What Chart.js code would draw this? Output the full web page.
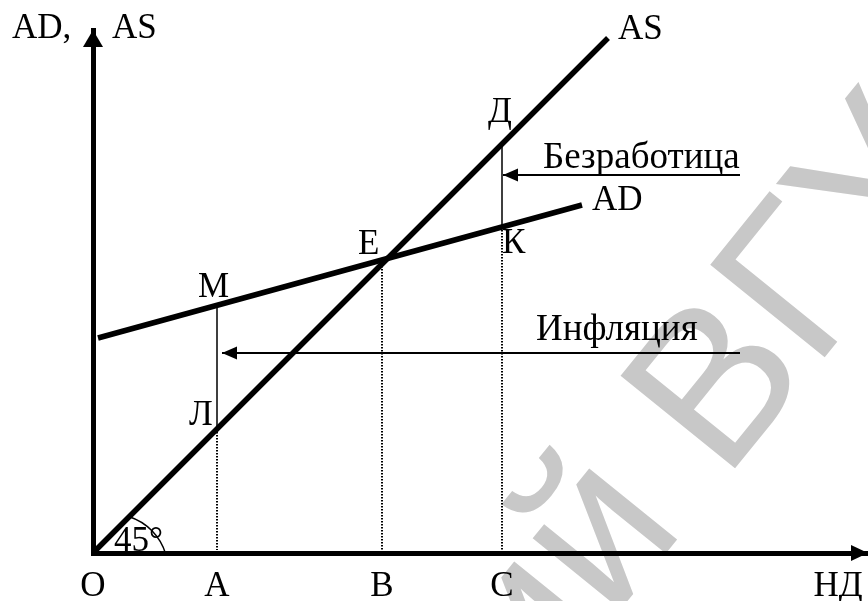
<!DOCTYPE html>
<html>
<head>
<meta charset="utf-8">
<script src="https://cdn.jsdelivr.net/npm/chart.js@4/dist/chart.umd.min.js"></script>
<style>
  html, body { margin: 0; padding: 0; background: #fff; }
</style>
</head>
<body>
<canvas id="chart" width="868" height="601"></canvas>
<script>
// Aggregate supply (45 degree line) and aggregate demand
const asX = [0, 51.5];
const asY = [0, 51.5];
const adX = [0.5, 48.9];
const adY = [21.5, 34.8];

// points on the income axis and the heights where AS / AD cross them
const xTickVals = [0, 12.4, 28.9, 40.9, 74.5];
const xTickLabels = ['О', 'А', 'В', 'С', 'НД'];
const dropX = [12.4, 28.9, 40.9];
const dropAS = [12.4, 29.3, 40.9];
const dropAD = [24.8, 29.3, 32.6];

// gap arrows
const gapNames = ['Безработица', 'Инфляция'];
const gapY = [37.8, 20.0];
const gapFrom = [64.7, 64.7];
const gapTo = [41.0, 12.9];

const serif = 'Liberation Serif, Times New Roman, serif';

const datasets = [];
datasets.push({ data: asX.map((x, i) => ({ x: x, y: asY[i] })), borderColor: '#000', borderWidth: 5.5 });
datasets.push({ data: adX.map((x, i) => ({ x: x, y: adY[i] })), borderColor: '#000', borderWidth: 5.5 });
dropX.forEach((x, i) => {
  const hi = Math.max(dropAS[i], dropAD[i]);
  const lo = Math.min(dropAS[i], dropAD[i]);
  if (hi - lo > 1) {
    datasets.push({ data: [{ x: x, y: hi }, { x: x, y: lo }], borderColor: '#000', borderWidth: 1.5 });
  }
  datasets.push({ data: [{ x: x, y: lo }, { x: x, y: 0.3 }], borderColor: '#000', borderWidth: 2, borderDash: [1.5, 1.5] });
});
gapY.forEach((y, i) => {
  datasets.push({ data: [{ x: gapFrom[i], y: y }, { x: gapTo[i], y: y }], borderColor: '#000', borderWidth: 2 });
});
datasets.forEach(d => { d.showLine = true; d.pointRadius = 0; d.fill = false; d.tension = 0; });

function arrowHead(ctx, x, y, dir, len, half) {
  ctx.beginPath();
  if (dir === 'up') { ctx.moveTo(x, y); ctx.lineTo(x - half, y + len); ctx.lineTo(x + half, y + len); }
  if (dir === 'right') { ctx.moveTo(x, y); ctx.lineTo(x - len, y - half); ctx.lineTo(x - len, y + half); }
  if (dir === 'left') { ctx.moveTo(x, y); ctx.lineTo(x + len, y - half); ctx.lineTo(x + len, y + half); }
  ctx.closePath();
  ctx.fill();
}

// faint repository stamp behind the drawing
const watermark = {
  id: 'watermark',
  beforeDraw(chart) {
    const ctx = chart.ctx;
    ctx.save();
    ctx.translate(724, 482);
    ctx.rotate(-51 * Math.PI / 180);
    ctx.fillStyle = '#c8c8c8';
    ctx.font = '214px Liberation Sans, Arial, sans-serif';
    ctx.textBaseline = 'alphabetic';
    ctx.textAlign = 'left';
    ctx.fillText('ВГУ', 0, 0);
    ctx.textAlign = 'right';
    ctx.fillText('Репозиторий ', 0, 0);
    ctx.restore();
  }
};

const annotations = {
  id: 'annotations',
  afterDraw(chart) {
    const ctx = chart.ctx;
    const xs = chart.scales.x, ys = chart.scales.y;
    const px = v => xs.getPixelForValue(v);
    const py = v => ys.getPixelForValue(v);
    const area = chart.chartArea;
    ctx.save();
    ctx.fillStyle = '#000';
    ctx.strokeStyle = '#000';

    // axis arrows
    arrowHead(ctx, area.left, area.top, 'up', 17, 10);
    arrowHead(ctx, area.right, area.bottom, 'right', 17, 8);

    // gap arrow heads
    gapY.forEach((y, i) => arrowHead(ctx, px(gapTo[i]), py(y), 'left', 15, 6.5));

    // 45 degree arc
    ctx.lineWidth = 1.5;
    ctx.beginPath();
    ctx.arc(px(0) + 19, py(0) + 17, 56, -72 * Math.PI / 180, -17 * Math.PI / 180);
    ctx.stroke();

    ctx.font = '35px ' + serif;
    ctx.textBaseline = 'alphabetic';
    ctx.textAlign = 'left';
    // axis title
    ctx.fillText('AD,', 12, 38);
    ctx.fillText('AS', 112, 38);
    // curve labels
    ctx.fillText('AS', px(asX[1]) + 10, py(asY[1]) + 1);
    ctx.fillText('AD', px(adX[1]) + 10, py(adY[1]) + 5);
    // point labels
    ctx.fillText('М', px(dropX[0]) - 19, py(dropAD[0]) - 8);
    ctx.fillText('Л', px(dropX[0]) - 28, py(dropAS[0]) - 4);
    ctx.fillText('Е', px(dropX[1]) - 24, py(dropAD[1]) - 6);
    ctx.fillText('Д', px(dropX[2]) - 14, py(dropAS[2]) - 22);
    ctx.fillText('К', px(dropX[2]), py(dropAD[2]) + 26);
    // angle
    ctx.fillText('45°', px(0) + 21, py(0) - 2);
    // gap labels
    ctx.font = '37px ' + serif;
    ctx.fillText(gapNames[0], 543, py(gapY[0]) - 7);
    ctx.fillText(gapNames[1], 536, py(gapY[1]) - 13);
    ctx.restore();
  }
};

new Chart(document.getElementById('chart'), {
  type: 'scatter',
  data: { datasets: datasets },
  plugins: [watermark, annotations],
  options: {
    responsive: false,
    animation: false,
    devicePixelRatio: 1,
    layout: { padding: { left: 93, right: 0, top: 30, bottom: 0 } },
    plugins: { legend: { display: false }, tooltip: { enabled: false } },
    scales: {
      x: {
        type: 'linear', min: 0, max: 77.5,
        grid: { display: false, drawTicks: false },
        border: { display: true, color: '#000', width: 5 },
        afterBuildTicks: s => { s.ticks = xTickVals.map(v => ({ value: v })); },
        afterFit: s => { s.height = 48; s.paddingLeft = 0; s.paddingRight = 0; },
        ticks: {
          autoSkip: false, maxRotation: 0, padding: 13, color: '#000',
          font: { family: serif, size: 35 },
          callback: (v, i) => xTickLabels[i]
        }
      },
      y: {
        type: 'linear', min: 0, max: 52.3,
        grid: { display: false, drawTicks: false },
        border: { display: true, color: '#000', width: 5 },
        ticks: { display: false },
        afterFit: s => { s.width = 0; }
      }
    }
  }
});
</script>
</body>
</html>
